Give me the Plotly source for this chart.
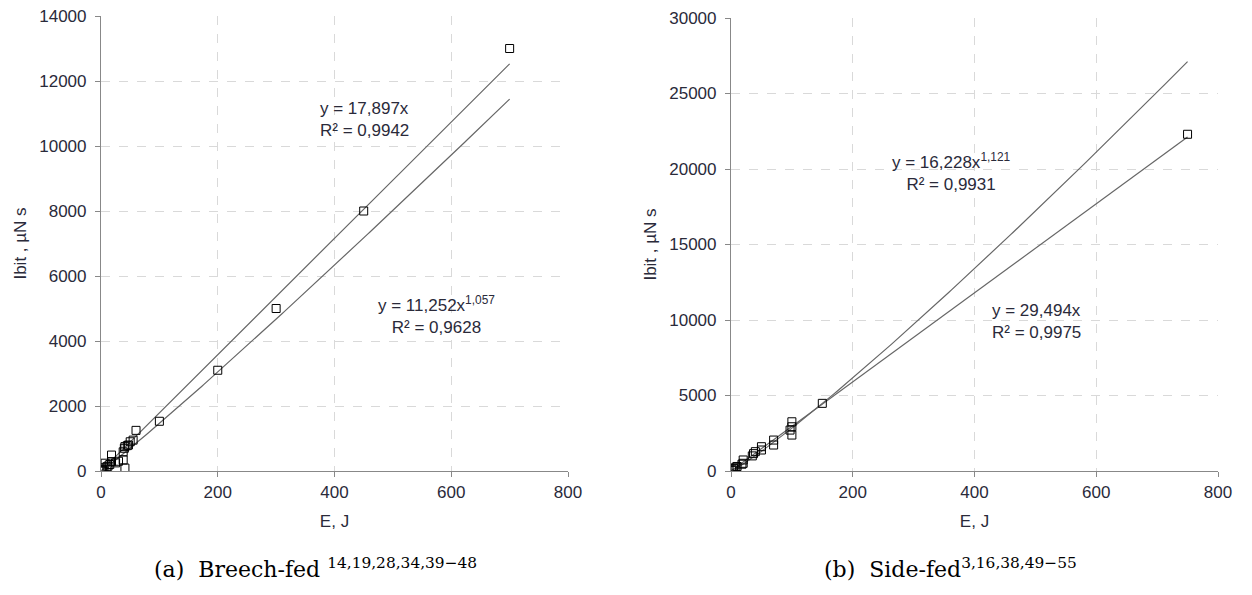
import numpy as np
import plotly.graph_objects as go

# ---- data ----
breech_E = [700, 450, 300, 200, 100, 60, 55, 50, 47, 45, 41, 40, 38, 38, 41, 30, 25, 18, 18, 15, 12, 10, 7, 5, 3, 2, 1]
breech_I = [13000, 8000, 5000, 3100, 1530, 1250, 950, 900, 800, 780, 750, 700, 590, 340, 90, 300, 250, 490, 290, 200, 150, 130, 240, 100, 60, 40, 20]

side_E = [750, 150, 100, 100, 97, 100, 70, 70, 50, 50, 40, 37, 35, 20, 20, 18, 10, 8, 5, 4, 2, 1]
side_I = [22300, 4480, 3260, 2930, 2710, 2380, 2050, 1720, 1610, 1390, 1280, 1150, 1000, 730, 510, 450, 300, 250, 180, 150, 80, 40]

# trendline coefficients (from the chart equations)
breech_lin_a = 17.897
breech_pow = (11.252, 1.057)
side_lin_a = 29.494
side_pow = (16.228, 1.121)

x_ticks = [0, 200, 400, 600, 800]
left_y_ticks = [0, 2000, 4000, 6000, 8000, 10000, 12000, 14000]
right_y_ticks = [0, 5000, 10000, 15000, 20000, 25000, 30000]

W, H = 1252, 595
fig = go.Figure()

line_style = dict(color="#666666", width=1.2)
marker_style = dict(symbol="square-open", size=8, color="black", line=dict(width=1, color="black"))

xl = np.linspace(0, max(breech_E), 200)
fig.add_trace(go.Scatter(x=xl, y=breech_lin_a * xl, mode="lines", line=line_style, xaxis="x", yaxis="y"))
fig.add_trace(go.Scatter(x=xl, y=breech_pow[0] * xl ** breech_pow[1], mode="lines", line=line_style, xaxis="x", yaxis="y"))
fig.add_trace(go.Scatter(x=breech_E, y=breech_I, mode="markers", marker=marker_style, xaxis="x", yaxis="y"))

xr = np.linspace(0, max(side_E), 200)
fig.add_trace(go.Scatter(x=xr, y=side_lin_a * xr, mode="lines", line=line_style, xaxis="x2", yaxis="y2"))
fig.add_trace(go.Scatter(x=xr, y=side_pow[0] * xr ** side_pow[1], mode="lines", line=line_style, xaxis="x2", yaxis="y2"))
fig.add_trace(go.Scatter(x=side_E, y=side_I, mode="markers", marker=marker_style, xaxis="x2", yaxis="y2"))

FS = 17
tickfont = dict(family="Liberation Sans, Arial", size=FS, color="#2a2a3a")
titlefont = dict(family="Liberation Sans, Arial", size=FS, color="#2a2a3a")
grid = dict(showgrid=True, gridcolor="#d9d9d9", griddash="dash", gridwidth=1,
            showline=True, linecolor="#888888", linewidth=1.2,
            ticks="outside", ticklen=5, tickcolor="#888888", tickfont=tickfont,
            zeroline=False, title_font=titlefont, automargin=False)

fig.update_layout(
    width=W, height=H, showlegend=False,
    paper_bgcolor="white", plot_bgcolor="white",
    margin=dict(l=0, r=0, t=0, b=0),
    xaxis=dict(domain=[101 / W, 568 / W], range=[0, 800], tickvals=x_ticks,
               ticktext=[str(v) for v in x_ticks], anchor="y",
               title=dict(text="E, J", standoff=14), **grid),
    yaxis=dict(domain=[(H - 471) / H, (H - 16) / H], range=[0, 14000], tickvals=left_y_ticks,
               ticktext=[str(v) for v in left_y_ticks], anchor="x", ticklabelstandoff=5,
               title=dict(text="Ibit , µN s", standoff=8), **grid),
    xaxis2=dict(domain=[731 / W, 1218 / W], range=[0, 800], tickvals=x_ticks,
                ticktext=[str(v) for v in x_ticks], anchor="y2",
                title=dict(text="E, J", standoff=14), **grid),
    yaxis2=dict(domain=[(H - 471) / H, (H - 18) / H], range=[0, 30000], tickvals=right_y_ticks,
                ticktext=[str(v) for v in right_y_ticks], anchor="x2", ticklabelstandoff=5,
                title=dict(text="Ibit , µN s", standoff=8), **grid),
)

afont = dict(family="Liberation Sans, Arial", size=FS, color="#2a2a3a")
fig.add_annotation(x=372, y=10830, xref="x", yref="y", xanchor="left", align="left", showarrow=False,
                   text="y = 17,897x<br>R² = 0,9942", font=afont)
fig.add_annotation(x=574, y=4800, xref="x", yref="y", xanchor="center", align="center", showarrow=False,
                   text="y = 11,252x<sup>1,057</sup><br>R² = 0,9628", font=afont)
fig.add_annotation(x=363, y=19800, xref="x2", yref="y2", xanchor="center", align="center", showarrow=False,
                   text="y = 16,228x<sup>1,121</sup><br>R² = 0,9931", font=afont)
fig.add_annotation(x=425, y=9870, xref="x2", yref="y2", xanchor="left", align="left", showarrow=False,
                   text="y = 29,494x<br>R² = 0,9975", font=afont)

capfont = dict(family="DejaVu Serif, Liberation Serif", size=22, color="black")
fig.add_annotation(x=315 / W, y=(H - 568) / H, xref="paper", yref="paper", showarrow=False,
                   xanchor="center", yanchor="middle",
                   text="(a)  Breech-fed <sup>14,19,28,34,39−48</sup>", font=capfont)
fig.add_annotation(x=950 / W, y=(H - 568) / H, xref="paper", yref="paper", showarrow=False,
                   xanchor="center", yanchor="middle",
                   text="(b)  Side-fed<sup>3,16,38,49−55</sup>", font=capfont)

fig.write_html("out.html")
